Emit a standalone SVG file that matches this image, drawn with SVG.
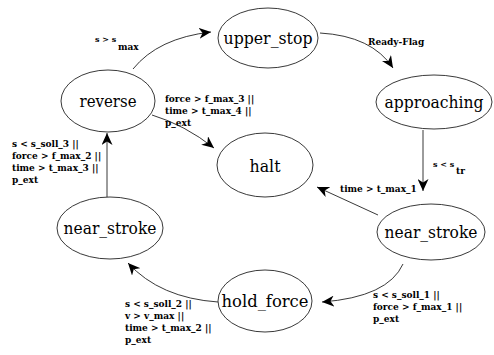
<svg xmlns="http://www.w3.org/2000/svg" width="494" height="355" viewBox="0 0 494 355">
  <style>
    .state ellipse { fill: none; stroke: #222; stroke-width: 0.9; }
    .state text { font-family: 'DejaVu Serif', 'Liberation Serif', serif; font-size: 17.5px; fill: #000; text-anchor: middle; }
    .edge { fill: none; stroke: #222; stroke-width: 0.9; marker-end: url(#arrow); }
    .lbl { font-family: 'DejaVu Serif', 'Liberation Serif', serif; font-size: 9px; font-weight: bold; fill: #000; }
    .sub { font-size: 8px; }
  </style>
  <defs>
    <marker id="arrow" markerUnits="userSpaceOnUse" markerWidth="13" markerHeight="11" viewBox="0 0 13 11" refX="12" refY="5.5" orient="auto">
      <path d="M0,0 L12,5.5 L0,11 L3.5,5.5 z" fill="#000"/>
    </marker>
  </defs>
  <rect width="494" height="355" fill="#fff"/>

  <g id="upper_stop" class="state">
    <ellipse cx="268" cy="38" rx="50" ry="30"/>
    <text x="268" y="44" textLength="89" lengthAdjust="spacingAndGlyphs">upper_stop</text>
  </g>
  <g id="approaching" class="state">
    <ellipse cx="434" cy="102" rx="58" ry="27"/>
    <text x="434" y="108" style="font-size:16px" textLength="99" lengthAdjust="spacingAndGlyphs">approaching</text>
  </g>
  <g id="reverse" class="state">
    <ellipse cx="108" cy="101" rx="47" ry="31"/>
    <text x="108" y="107" textLength="57" lengthAdjust="spacingAndGlyphs">reverse</text>
  </g>
  <g id="halt" class="state">
    <ellipse cx="265" cy="165" rx="48" ry="32"/>
    <text x="265" y="172" textLength="31" lengthAdjust="spacingAndGlyphs">halt</text>
  </g>
  <g id="near_stroke_right" class="state">
    <ellipse cx="431" cy="232" rx="54" ry="28"/>
    <text x="431" y="238" textLength="93" lengthAdjust="spacingAndGlyphs">near_stroke</text>
  </g>
  <g id="hold_force" class="state">
    <ellipse cx="265" cy="301" rx="47" ry="31"/>
    <text x="265" y="307" textLength="87" lengthAdjust="spacingAndGlyphs">hold_force</text>
  </g>
  <g id="near_stroke_left" class="state">
    <ellipse cx="110" cy="228" rx="53" ry="31"/>
    <text x="110" y="234" textLength="93" lengthAdjust="spacingAndGlyphs">near_stroke</text>
  </g>

  <g id="connectors">
    <path class="edge" d="M133,69 Q158,38 211,32"/>
    <path class="edge" d="M320,33 Q372,36 393,68"/>
    <path class="edge" d="M423,130 L423,191"/>
    <path class="edge" d="M378,215 L317,187"/>
    <path class="edge" d="M403,264 Q388,297 322,302"/>
    <path class="edge" d="M218,302 Q160,298 128,263"/>
    <path class="edge" d="M107,197 L107,133"/>
    <path class="edge" d="M152,115 Q185,125 214,148"/>
  </g>

  <g id="labels">
    <text class="lbl sub" x="95" y="42">s &gt; s</text>
    <text class="lbl" x="118" y="50">max</text>
    <text class="lbl" x="368" y="45">Ready-Flag</text>
    <text class="lbl sub" x="433" y="167">s &lt; s</text>
    <text class="lbl" x="456" y="174">tr</text>
    <text class="lbl" x="340" y="192">time &gt; t_max_1</text>
    <text class="lbl" x="165" y="102">force &gt; f_max_3 ||</text>
    <text class="lbl" x="165" y="114">time &gt; t_max_4 ||</text>
    <text class="lbl" x="165" y="126">p_ext</text>
    <text class="lbl" x="12" y="147">s &lt; s_soll_3 ||</text>
    <text class="lbl" x="12" y="159">force &gt; f_max_2 ||</text>
    <text class="lbl" x="12" y="171">time &gt; t_max_3 ||</text>
    <text class="lbl" x="12" y="183">p_ext</text>
    <text class="lbl" x="373" y="298">s &lt; s_soll_1 ||</text>
    <text class="lbl" x="373" y="310">force &gt; f_max_1 ||</text>
    <text class="lbl" x="373" y="322">p_ext</text>
    <text class="lbl" x="125" y="307">s &lt; s_soll_2 ||</text>
    <text class="lbl" x="125" y="319">v &gt; v_max ||</text>
    <text class="lbl" x="125" y="331">time &gt; t_max_2 ||</text>
    <text class="lbl" x="125" y="343">p_ext</text>
  </g>
</svg>
